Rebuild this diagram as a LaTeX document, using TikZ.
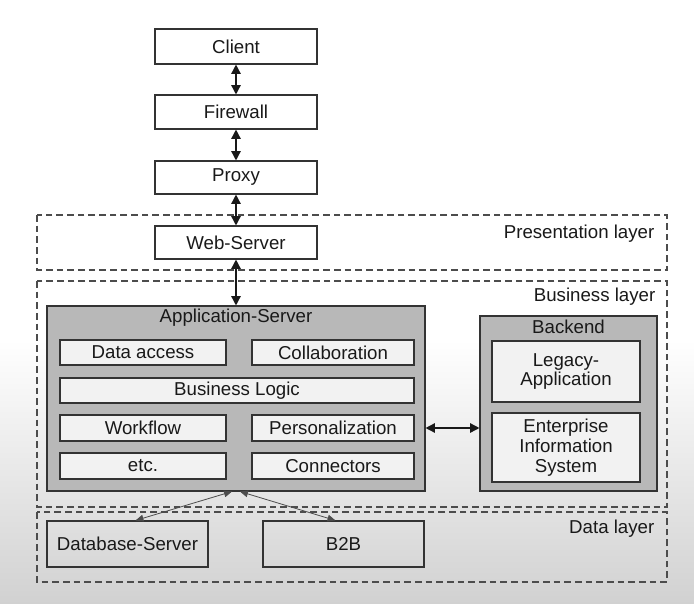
\documentclass[tikz,border=0pt]{standalone}
\usepackage{fontspec}
\setmainfont{Liberation Sans}
\usetikzlibrary{arrows.meta}
\begin{document}
\begin{tikzpicture}[x=0.75pt,y=-0.75pt,
  txt/.style={font=\fontsize{14}{14.8}\selectfont, text=black!90},
  box/.style={txt, draw=black!80, line width=0.8pt, fill=white, inner sep=0pt, align=center},
  sub/.style={box, fill=black!5},
  plain/.style={box, fill=none},
  cont/.style={draw=black!80, line width=0.8pt, fill=black!28, inner sep=0pt},
  layer/.style={draw=black!70, dash pattern=on 5pt off 3pt, line width=0.8pt},
  arr/.style={{Triangle[length=7pt,width=7pt]}-{Triangle[length=7pt,width=7pt]}, line width=1.1pt, black!90},
  thinarr/.style={{Triangle[length=6pt,width=5pt]}-{Triangle[length=6pt,width=5pt]}, line width=0.6pt, black!70}]
\useasboundingbox (0,0) rectangle (694,604);
\fill[white] (0,0) rectangle (694,604);
\shade[top color=white, bottom color=black!18] (0,340) rectangle (694,604);

% layers
\draw[layer] (37,215) rectangle (667,270);
\draw[layer] (37,281) rectangle (667,507);
\draw[layer] (37,512) rectangle (667,582);
\node[txt, anchor=east] (pl) at (659,234) {Presentation layer};
\node[txt, anchor=east] (bl) at (660,297) {Business layer};
\node[txt, anchor=east] (dl) at (659,529) {Data layer};

% top chain
\node[box, minimum width=121.5pt, minimum height=26.25pt] (client) at (236,46.5) {Client};
\node[box, minimum width=121.5pt, minimum height=25.5pt] (fw) at (236,112) {Firewall};
\node[box, minimum width=121.5pt, minimum height=24.75pt] (proxy) at (236,177.5) {Proxy};
\node[box, minimum width=121.5pt, minimum height=24.75pt] (web) at (236,242.5) {Web-Server};

% application server
\node[cont, minimum width=283.5pt, minimum height=138.75pt] (app) at (236,398.5) {};
\node[txt] (apptitle) at (236,318) {Application-Server};
\node[sub, minimum width=124.5pt, minimum height=18.75pt] (da) at (143,352.5) {Data access};
\node[sub, minimum width=121.5pt, minimum height=18.75pt] (co) at (333,352.5) {Collaboration};
\node[sub, minimum width=265.5pt, minimum height=18.75pt] (bls) at (237,390.5) {Business Logic};
\node[sub, minimum width=124.5pt, minimum height=19.5pt] (wf) at (143,428) {Workflow};
\node[sub, minimum width=121.5pt, minimum height=19.5pt] (pers) at (333,428) {Personalization};
\node[sub, minimum width=124.5pt, minimum height=19.5pt] (etc) at (143,466) {etc.};
\node[sub, minimum width=121.5pt, minimum height=19.5pt] (conn) at (333,466) {Connectors};

% backend
\node[cont, minimum width=132.75pt, minimum height=131.25pt] (be) at (568.5,403.5) {};
\node[txt] (betitle) at (568.5,327) {Backend};
\node[sub, minimum width=111pt, minimum height=45.75pt] (leg) at (566,371.5) {Legacy-\\Application};
\node[sub, minimum width=111pt, minimum height=51.75pt] (eis) at (566,447.5) {Enterprise\\Information\\System};

% data layer
\node[plain, minimum width=120.75pt, minimum height=34.5pt] (db) at (127.5,544) {Database-Server};
\node[plain, minimum width=120.75pt, minimum height=34.5pt] (b2b) at (343.5,544) {B2B};

% connectors
\draw[arr] (client) -- (fw);
\draw[arr] (fw) -- (proxy);
\draw[arr] (proxy) -- (web);
\draw[arr] (web) -- (app);
\draw[arr] (app.east |- pers) -- (be.west |- pers);
\draw[thinarr] ([xshift=-3pt]app.south) -- ([xshift=6pt]db.north);
\draw[thinarr] ([xshift=3pt]app.south) -- ([xshift=-6pt]b2b.north);
\end{tikzpicture}
\end{document}
